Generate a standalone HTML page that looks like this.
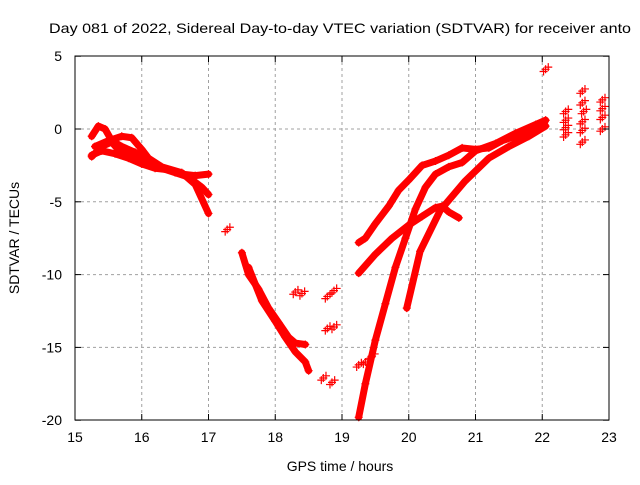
<!DOCTYPE html>
<html><head><meta charset="utf-8"><style>
body{margin:0;background:#fff}
svg text{font-family:"Liberation Sans",sans-serif;font-size:14px;fill:#000}
</style></head><body>
<svg id="chart" width="640" height="480" viewBox="0 0 640 480" xmlns="http://www.w3.org/2000/svg">
<rect width="640" height="480" fill="#fff"/>
<text x="49" y="33" textLength="582" lengthAdjust="spacingAndGlyphs">Day 081 of 2022, Sidereal Day-to-day VTEC variation (SDTVAR) for receiver anto</text>
<g id="grid"></g>
<g id="marks"></g>
<rect x="75" y="56" width="534" height="364" fill="none" stroke="#000" stroke-width="1"/>
<g id="ticks"></g>
<text x="340" y="471" text-anchor="middle">GPS time / hours</text>
<text transform="translate(19,238) rotate(-90)" text-anchor="middle">SDTVAR / TECUs</text>
</svg>
<script>
const xTicks=[15,16,17,18,19,20,21,22,23];
const yTicks=[5,0,-5,-10,-15,-20];
const t1=[[15.25,-1.8],[15.4,-1.5],[15.6,-1.7],[15.8,-2.0],[16.0,-2.4],[16.2,-2.7],[16.4,-2.8],[16.6,-3.1],[16.8,-3.2],[17.0,-3.1]];
const t2=[[15.25,-0.5],[15.35,0.2],[15.45,0],[15.55,-0.8],[15.7,-1.2],[15.9,-1.6],[16.1,-2.3],[16.3,-2.7],[16.5,-3.0],[16.7,-3.3],[16.9,-4.0],[17.0,-4.5]];
const t3=[[15.3,-1.2],[15.5,-0.8],[15.7,-0.5],[15.85,-0.6],[16.0,-1.4],[16.1,-2.0],[16.3,-2.6],[16.6,-3.0],[16.8,-3.8],[17.0,-5.8]];
const t4=[[15.25,-1.9],[15.4,-1.2],[15.55,-0.9],[15.7,-1.7],[15.9,-1.9],[16.05,-2.2]];
const t5=[[17.5,-8.5],[17.6,-10],[17.75,-11],[17.9,-12.3],[18.05,-13.3],[18.2,-14.3],[18.3,-14.7],[18.45,-14.8]];
const t6=[[17.6,-9.5],[17.8,-11.8],[18.0,-13.2],[18.15,-14.3],[18.3,-15.3],[18.45,-16.0],[18.5,-16.6]];
const r1=[[19.25,-7.8],[19.35,-7.5],[19.5,-6.5],[19.7,-5.3],[19.85,-4.2],[20.0,-3.5],[20.2,-2.5],[20.4,-2.2],[20.6,-1.8],[20.8,-1.3],[21.0,-1.4],[21.2,-1.3],[21.4,-0.8],[21.6,-0.5],[21.8,-0.2],[22.0,0.2],[22.05,0.6]];
const r2=[[19.25,-9.9],[19.5,-8.6],[19.75,-7.5],[20.0,-6.6],[20.2,-6.0],[20.4,-5.4],[20.5,-5.3],[20.6,-5.7],[20.75,-6.1]];
const r3=[[19.25,-19.8],[19.35,-17.5],[19.5,-14.5],[19.65,-12],[19.8,-9.5],[19.95,-7.5],[20.1,-5.5],[20.25,-4.0],[20.4,-3.1],[20.6,-2.6],[20.8,-2.3],[21.0,-1.5],[21.3,-1.0],[21.6,-0.3],[21.9,0.3],[22.05,0.6]];
const r4=[[19.97,-12.3],[20.17,-8.4],[20.47,-5.6],[20.84,-3.6],[21.2,-2.0],[21.5,-1.2],[21.8,-0.5],[22.05,0.2]];
const clusters=[[17.28,-6.9],[18.3,-11.2],[18.4,-11.3],[18.78,-11.5],[18.88,-11.1],[18.78,-13.7],[18.88,-13.6],[18.72,-17.1],[18.85,-17.4],[19.25,-16.2],[19.35,-16.0],[19.45,-15.6],[22.05,4.1],[22.35,1.2],[22.35,0.6],[22.35,0.1],[22.35,-0.4],[22.6,2.6],[22.6,1.8],[22.62,1.2],[22.6,0.5],[22.6,-0.1],[22.6,-0.9],[22.9,2.0],[22.9,1.4],[22.9,0.8],[22.9,0]];
const X=h=>75+(h-15)*66.75, Y=v=>129-v*14.56;
const NS='http://www.w3.org/2000/svg';
const grid=document.getElementById('grid'),ticks=document.getElementById('ticks'),marks=document.getElementById('marks');
function mk(t,a,p){const e=document.createElementNS(NS,t);for(const k in a)e.setAttribute(k,a[k]);p.appendChild(e);return e;}
xTicks.forEach(t=>{const x=X(t);
 if(t>15&&t<23){const g=mk('line',{x1:x,x2:x,y1:56,y2:420,stroke:'#a0a0a0','stroke-dasharray':'3,3'},grid);
 
 }
 const l=mk('text',{x:x,y:442,'text-anchor':'middle'},ticks);l.textContent=t;
 
 
 mk('line',{x1:x,x2:x,y1:420,y2:414,stroke:'#000'},ticks);mk('line',{x1:x,x2:x,y1:56,y2:62,stroke:'#000'},ticks);});
yTicks.forEach(t=>{const y=Y(t);
 if(t<5&&t>-20){const g=mk('line',{x1:75,x2:609,y1:y,y2:y,stroke:'#a0a0a0','stroke-dasharray':'3,3'},grid);
 
 }
 const l=mk('text',{x:62,y:y+5,'text-anchor':'end'},ticks);l.textContent=t;
 
 
 mk('line',{x1:75,x2:81,y1:y,y2:y,stroke:'#000'},ticks);mk('line',{x1:609,x2:603,y1:y,y2:y,stroke:'#000'},ticks);});
function plus(h,v){const x=X(h),y=Y(v);
 const p=mk('path',{d:`M${x-4},${y}H${x+4}M${x},${y-4}V${y+4}`,stroke:'#f00','stroke-width':1.2,fill:'none'},marks);
 
 }
[t1,t2,t3,t4,t5,t6,r1,r2,r3,r4].forEach((s,i)=>{
 const pl=mk('polyline',{points:s.map(d=>X(d[0])+','+Y(d[1])).join(' '),stroke:'#f00','stroke-width':7,fill:'none','stroke-linejoin':'round','stroke-linecap':'round'},marks);
 
 
 s.forEach(d=>plus(d[0],d[1]));});
clusters.forEach(d=>{plus(d[0],d[1]);plus(d[0]+0.04,d[1]+0.15);plus(d[0]-0.03,d[1]-0.15);});
</script>
</body></html>
